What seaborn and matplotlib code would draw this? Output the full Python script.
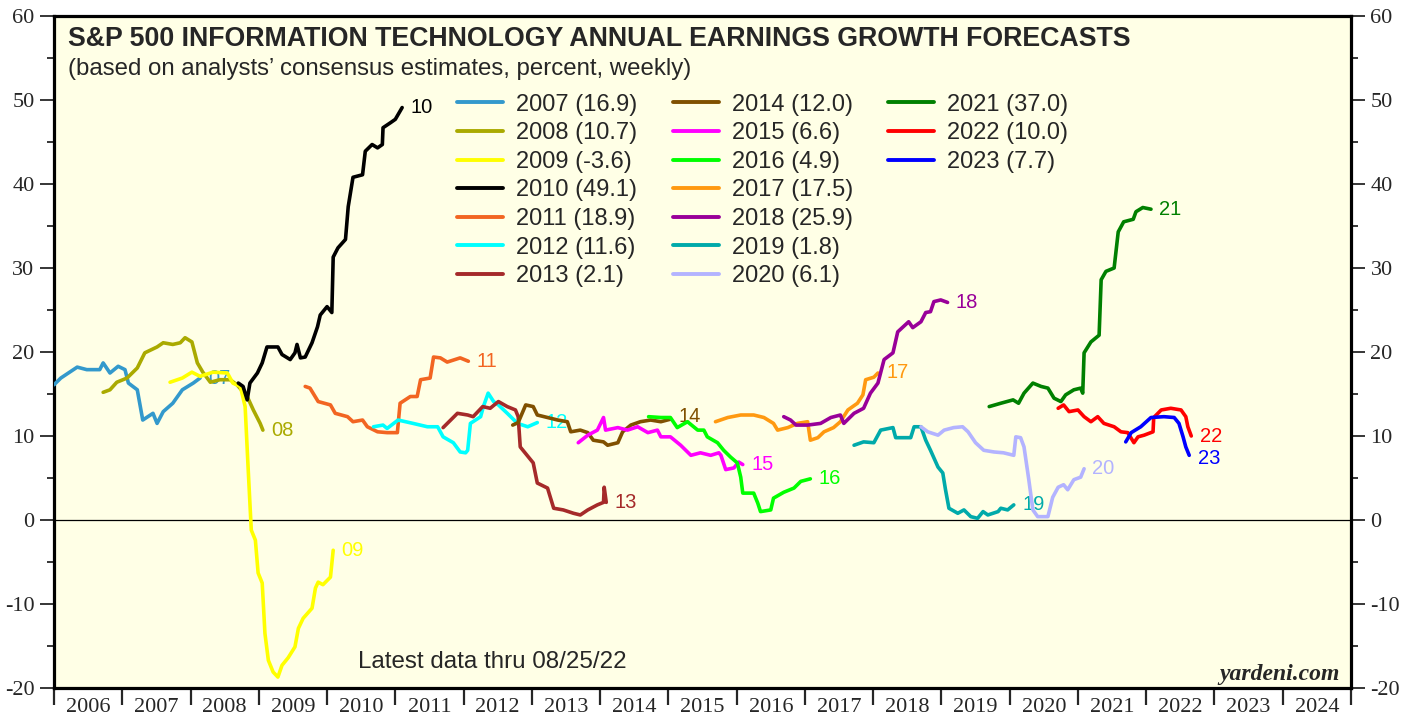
import numpy as np
import pandas as pd
import seaborn as sns
import matplotlib.pyplot as plt
from matplotlib.lines import Line2D
from matplotlib.ticker import MultipleLocator, FixedLocator, NullFormatter

# forecast year, final value shown in legend, line colour
years = [2007, 2008, 2009, 2010, 2011, 2012, 2013, 2014, 2015,
         2016, 2017, 2018, 2019, 2020, 2021, 2022, 2023]
finals = [16.9, 10.7, -3.6, 49.1, 18.9, 11.6, 2.1, 12.0, 6.6,
          4.9, 17.5, 25.9, 1.8, 6.1, 37.0, 10.0, 7.7]
colors = ['#3399CC', '#AAAA00', '#FFFF00', '#000000', '#F26522', '#00FFFF',
          '#A52A2A', '#805000', '#FF00FF', '#00FF00', '#FF9910', '#990099',
          '#00AAAA', '#B3B3FF', '#008000', '#FF0000', '#0000FF']

# weekly consensus readings (decimal year, percent)
t07 = [2006.00, 2006.10, 2006.34, 2006.48, 2006.67, 2006.72, 2006.82, 2006.94, 2007.04, 2007.09,
       2007.22, 2007.30, 2007.45, 2007.51, 2007.60, 2007.74, 2007.88, 2008.04, 2008.14]
v07 = [16.1, 16.9, 18.2, 17.9, 17.9, 18.7, 17.5, 18.3, 17.9, 16.3,
       15.5, 11.9, 12.7, 11.5, 12.9, 13.9, 15.5, 16.3, 16.9]

t08 = [2006.72, 2006.82, 2006.92, 2007.07, 2007.22, 2007.33, 2007.51, 2007.60, 2007.74, 2007.85, 2007.92,
       2008.02, 2008.10, 2008.18, 2008.29, 2008.43, 2008.58, 2008.68, 2008.83, 2008.92, 2009.02, 2009.06]
v08 = [15.2, 15.5, 16.4, 16.9, 18.1, 19.9, 20.6, 21.1, 20.9, 21.1, 21.7,
       21.2, 18.7, 17.6, 16.4, 16.7, 16.7, 16.1, 14.7, 13.1, 11.5, 10.7]

t09 = [2007.70, 2007.88, 2008.02, 2008.14, 2008.33, 2008.54, 2008.62, 2008.73, 2008.80, 2008.84,
       2008.89, 2008.95, 2008.99, 2009.05, 2009.09, 2009.14, 2009.21, 2009.28, 2009.34, 2009.43,
       2009.53, 2009.58, 2009.65, 2009.78, 2009.83, 2009.87, 2009.94, 2010.05, 2010.09]
v09 = [16.4, 16.9, 17.6, 17.1, 17.6, 17.5, 16.3, 15.9, 13.5, 6.8,
       -1.2, -2.4, -6.3, -7.5, -13.5, -16.7, -18.1, -18.7, -17.3, -16.4,
       -15.1, -12.9, -11.7, -10.5, -8.1, -7.4, -7.7, -6.8, -3.6]

t10 = [2008.70, 2008.77, 2008.83, 2008.87, 2008.98, 2009.05, 2009.12, 2009.28, 2009.34, 2009.46, 2009.53,
       2009.56, 2009.61, 2009.68, 2009.78, 2009.86, 2009.90, 2010.00, 2010.07, 2010.09, 2010.16, 2010.27,
       2010.31, 2010.38, 2010.52, 2010.56, 2010.66, 2010.74, 2010.81, 2010.82, 2010.93, 2011.00, 2011.10]
v10 = [16.3, 15.9, 14.3, 16.3, 17.5, 18.7, 20.6, 20.6, 19.7, 19.1, 19.9,
       20.9, 19.3, 19.4, 21.1, 23.0, 24.4, 25.4, 24.7, 31.3, 32.4, 33.4,
       37.3, 40.8, 41.1, 43.9, 44.7, 44.3, 44.7, 46.7, 47.3, 47.7, 49.1]

t11 = [2009.68, 2009.75, 2009.87, 2010.05, 2010.12, 2010.30, 2010.38, 2010.52, 2010.59, 2010.74, 2010.88,
       2011.03, 2011.07, 2011.22, 2011.32, 2011.37, 2011.51, 2011.56, 2011.66, 2011.76, 2011.95, 2012.07]
v11 = [15.9, 15.7, 14.1, 13.7, 12.7, 12.3, 11.7, 11.9, 11.1, 10.5, 10.4,
       10.4, 13.9, 14.7, 14.7, 16.7, 16.9, 19.4, 19.3, 18.8, 19.3, 18.9]

t12 = [2010.68, 2010.82, 2010.88, 2011.04, 2011.26, 2011.47, 2011.62, 2011.70, 2011.85, 2011.95, 2012.03,
       2012.06, 2012.10, 2012.25, 2012.29, 2012.36, 2012.44, 2012.51, 2012.64, 2012.79, 2012.94, 2013.08]
v12 = [11.1, 11.3, 10.9, 11.9, 11.5, 11.1, 11.1, 9.9, 9.2, 8.1, 8.0,
       8.3, 11.5, 12.3, 13.5, 15.1, 14.1, 13.7, 12.7, 11.5, 11.1, 11.6]

t13 = [2011.70, 2011.91, 2012.06, 2012.14, 2012.28, 2012.39, 2012.51, 2012.64, 2012.76, 2012.80, 2012.83,
       2012.95, 2013.02, 2013.08, 2013.23, 2013.32, 2013.46, 2013.61, 2013.71, 2013.82, 2013.96, 2014.05,
       2014.06, 2014.09]
v13 = [11.0, 12.7, 12.5, 12.3, 13.5, 13.3, 14.1, 13.5, 13.1, 12.3, 8.7,
       7.5, 6.8, 4.4, 3.8, 1.4, 1.2, 0.8, 0.6, 1.2, 1.8, 2.1,
       3.9, 2.1]

t14 = [2012.72, 2012.80, 2012.91, 2013.02, 2013.08, 2013.23, 2013.38, 2013.52, 2013.57, 2013.71, 2013.82,
       2013.90, 2014.05, 2014.11, 2014.26, 2014.33, 2014.45, 2014.59, 2014.74, 2014.89, 2015.03]
v14 = [11.3, 11.6, 13.7, 13.5, 12.5, 12.2, 11.9, 11.7, 10.5, 10.7, 10.4,
       9.5, 9.3, 8.9, 9.2, 10.5, 11.3, 11.7, 11.9, 11.7, 12.0]

t15 = [2013.68, 2013.82, 2013.96, 2014.05, 2014.08, 2014.26, 2014.40, 2014.55, 2014.70, 2014.84, 2014.89,
       2015.03, 2015.18, 2015.33, 2015.47, 2015.62, 2015.74, 2015.77, 2015.84, 2015.96, 2016.03, 2016.09]
v15 = [9.2, 10.1, 10.7, 12.2, 10.7, 11.0, 10.7, 11.1, 10.4, 10.7, 9.9,
       9.9, 8.9, 7.7, 8.0, 7.7, 8.0, 7.7, 6.0, 6.2, 6.9, 6.6]

t16 = [2014.71, 2014.89, 2015.03, 2015.13, 2015.28, 2015.43, 2015.52, 2015.57, 2015.72, 2015.81, 2015.91,
       2016.01, 2016.06, 2016.09, 2016.25, 2016.31, 2016.35, 2016.50, 2016.54, 2016.69, 2016.84, 2016.94,
       2017.08]
v16 = [12.3, 12.2, 12.2, 11.0, 11.7, 10.7, 10.7, 9.9, 9.2, 8.3, 7.5,
       6.8, 5.1, 3.2, 3.2, 2.0, 1.0, 1.2, 2.6, 3.3, 3.8, 4.6,
       4.9]

t17 = [2015.69, 2015.87, 2016.06, 2016.25, 2016.40, 2016.54, 2016.60, 2016.75, 2016.89, 2017.04, 2017.08,
       2017.19, 2017.28, 2017.42, 2017.52, 2017.63, 2017.77, 2017.85, 2017.89, 2018.01, 2018.07]
v17 = [11.7, 12.2, 12.5, 12.5, 12.2, 11.5, 10.7, 11.0, 11.5, 11.7, 9.5,
       9.8, 10.5, 11.0, 11.7, 13.1, 13.9, 14.9, 16.7, 17.0, 17.5]

t18 = [2016.69, 2016.79, 2016.87, 2017.04, 2017.23, 2017.38, 2017.52, 2017.57, 2017.72, 2017.86, 2017.96,
       2018.07, 2018.16, 2018.29, 2018.36, 2018.52, 2018.58, 2018.70, 2018.77, 2018.84, 2018.89, 2018.99,
       2019.09]
v18 = [12.3, 11.9, 11.3, 11.3, 11.5, 12.2, 12.5, 11.5, 12.7, 13.3, 15.1,
       16.3, 19.1, 19.9, 22.4, 23.6, 22.9, 23.6, 24.7, 24.8, 26.0, 26.2,
       25.9]

t19 = [2017.72, 2017.86, 2018.01, 2018.11, 2018.29, 2018.33, 2018.55, 2018.60, 2018.70, 2018.77, 2018.84,
       2018.95, 2019.02, 2019.06, 2019.11, 2019.24, 2019.33, 2019.43, 2019.53, 2019.61, 2019.68, 2019.83,
       2019.87, 2019.97, 2020.06]
v19 = [8.9, 9.3, 9.2, 10.7, 11.0, 9.8, 9.8, 11.1, 11.1, 9.5, 8.3,
       6.3, 5.6, 3.6, 1.4, 0.8, 1.2, 0.4, 0.2, 1.0, 0.6, 1.0,
       1.4, 1.2, 1.8]

t20 = [2018.70, 2018.80, 2018.95, 2019.04, 2019.18, 2019.31, 2019.39, 2019.50, 2019.62, 2019.77, 2019.91,
       2020.06, 2020.09, 2020.16, 2020.21, 2020.28, 2020.34, 2020.41, 2020.56, 2020.63, 2020.71, 2020.79,
       2020.85, 2020.94, 2021.04, 2021.09]
v20 = [11.1, 10.5, 10.1, 10.7, 11.0, 11.1, 10.5, 9.2, 8.3, 8.1, 8.0,
       7.7, 9.9, 9.8, 8.7, 4.8, 1.2, 0.4, 0.4, 2.7, 3.9, 4.2,
       3.6, 4.8, 5.1, 6.1]

t21 = [2019.70, 2019.87, 2020.05, 2020.13, 2020.21, 2020.34, 2020.46, 2020.56, 2020.65, 2020.75, 2020.82,
       2020.94, 2021.04, 2021.07, 2021.09, 2021.19, 2021.31, 2021.34, 2021.41, 2021.53, 2021.59, 2021.67,
       2021.81, 2021.85, 2021.95, 2022.07]
v21 = [13.5, 13.9, 14.3, 13.9, 15.1, 16.3, 15.9, 15.7, 14.5, 14.1, 14.9,
       15.5, 15.7, 15.1, 19.9, 21.2, 22.0, 28.6, 29.6, 30.0, 34.3, 35.5,
       35.8, 36.7, 37.2, 37.0]

t22 = [2020.71, 2020.79, 2020.87, 2021.00, 2021.09, 2021.19, 2021.29, 2021.38, 2021.53, 2021.63, 2021.73,
       2021.82, 2021.88, 2021.97, 2022.10, 2022.11, 2022.22, 2022.36, 2022.51, 2022.58, 2022.61, 2022.66]
v22 = [13.3, 13.7, 12.9, 13.1, 12.3, 11.7, 12.3, 11.5, 11.1, 10.5, 10.4,
       9.2, 9.9, 10.1, 10.5, 12.2, 13.1, 13.3, 13.1, 12.3, 11.1, 10.0]

t23 = [2021.70, 2021.78, 2021.92, 2022.07, 2022.26, 2022.41, 2022.48, 2022.54, 2022.58, 2022.63]
v23 = [9.3, 10.4, 11.1, 12.2, 12.3, 12.2, 11.5, 9.9, 8.7, 7.7]

all_t = [t07, t08, t09, t10, t11, t12, t13, t14, t15, t16, t17, t18, t19, t20, t21, t22, t23]
all_v = [v07, v08, v09, v10, v11, v12, v13, v14, v15, v16, v17, v18, v19, v20, v21, v22, v23]

frames = []
for yr, t, v in zip(years, all_t, all_v):
    frames.append(pd.DataFrame({'date': t, 'value': v, 'series': yr}))
df = pd.concat(frames, ignore_index=True)

sns.set_style("white")
plt.rcParams['font.family'] = ['Liberation Sans', 'DejaVu Sans']
plt.rcParams['axes.unicode_minus'] = False

fig = plt.figure(figsize=(14.16, 7.17), dpi=100)
ax = fig.add_axes([54 / 1416, 1 - 688 / 717, (1351 - 54) / 1416, (688 - 16) / 717])
ax.set_facecolor('#FFFFE6')

ax.axhline(0, color='black', lw=0.9, zorder=2)

for i, yr in enumerate(years):
    sub = df[df['series'] == yr]
    sns.lineplot(data=sub, x='date', y='value', color=colors[i], lw=2.6, ax=ax,
                 sort=False, estimator=None, legend=False, zorder=3 + i * 0.01,
                 solid_joinstyle='round', solid_capstyle='round')
    off = (6, 0)
    if yr == 2023:
        off = (6, -2)
    elif yr == 2014:
        off = (6, 2)
    ax.annotate(str(yr)[2:], xy=(sub['date'].iloc[-1], sub['value'].iloc[-1]),
                xytext=off, textcoords='offset points', va='center', ha='left',
                fontsize=14.5, color=colors[i], zorder=3 + i * 0.01)

ax.set_xlim(2006, 2025)
ax.set_ylim(-20, 60)
ax.set_xlabel('')
ax.set_ylabel('')

ax.xaxis.set_major_locator(FixedLocator(list(range(2006, 2026))))
ax.xaxis.set_major_formatter(NullFormatter())
ax.set_xticks([y + 0.5 for y in range(2006, 2025)], [str(y) for y in range(2006, 2025)], minor=True)
ax.tick_params(axis='x', which='major', direction='out', length=12, width=1.6, bottom=True)
ax.tick_params(axis='x', which='minor', length=0, pad=7, labelsize=16,
               labelfontfamily='Liberation Serif')

ax.yaxis.set_major_locator(MultipleLocator(10))
ax.yaxis.set_minor_locator(MultipleLocator(5))
ax.tick_params(axis='y', which='both', direction='out', left=True, right=True,
               labelleft=True, labelright=True, width=1.3)
ax.tick_params(axis='y', which='major', length=10, pad=4, labelsize=16,
               labelfontfamily='Liberation Serif')
ax.tick_params(axis='y', which='minor', length=5)

for side in ['left', 'right', 'top', 'bottom']:
    ax.spines[side].set_visible(True)
    ax.spines[side].set_color('black')
    ax.spines[side].set_linewidth(2.3)

# legend: three columns, seven rows (last column padded with blanks)
handles = [Line2D([], [], color=c, lw=2.8) for c in colors]
labels = [f"{yr} ({val:.1f})" for yr, val in zip(years, finals)]
for _ in range(4):
    handles.append(Line2D([], [], color='none'))
    labels.append('')
ax.legend(handles, labels, ncol=3, loc='upper left', bbox_to_anchor=(0.3107, 0.8846),
          frameon=False, fontsize=17, handlelength=1.95, handletextpad=0.55,
          columnspacing=1.5, labelspacing=0.28, borderpad=0, borderaxespad=0)

ax.text(0.0108, 0.9554, 'S&P 500 INFORMATION TECHNOLOGY ANNUAL EARNINGS GROWTH FORECASTS',
        transform=ax.transAxes, fontsize=19.3, fontweight='bold', va='baseline', ha='left')
ax.text(0.0108, 0.9122, '(based on analysts\u2019 consensus estimates, percent, weekly)',
        transform=ax.transAxes, fontsize=17.3, va='baseline', ha='left')
ax.text(0.2344, 0.0298, 'Latest data thru 08/25/22', transform=ax.transAxes,
        fontsize=17.4, va='baseline', ha='left')
ax.text(0.9915, 0.0119, 'yardeni.com', transform=ax.transAxes, fontsize=17,
        fontweight='bold', fontstyle='italic', family='Liberation Serif',
        va='baseline', ha='right')

fig.savefig('out.png', dpi=100, facecolor='white')
